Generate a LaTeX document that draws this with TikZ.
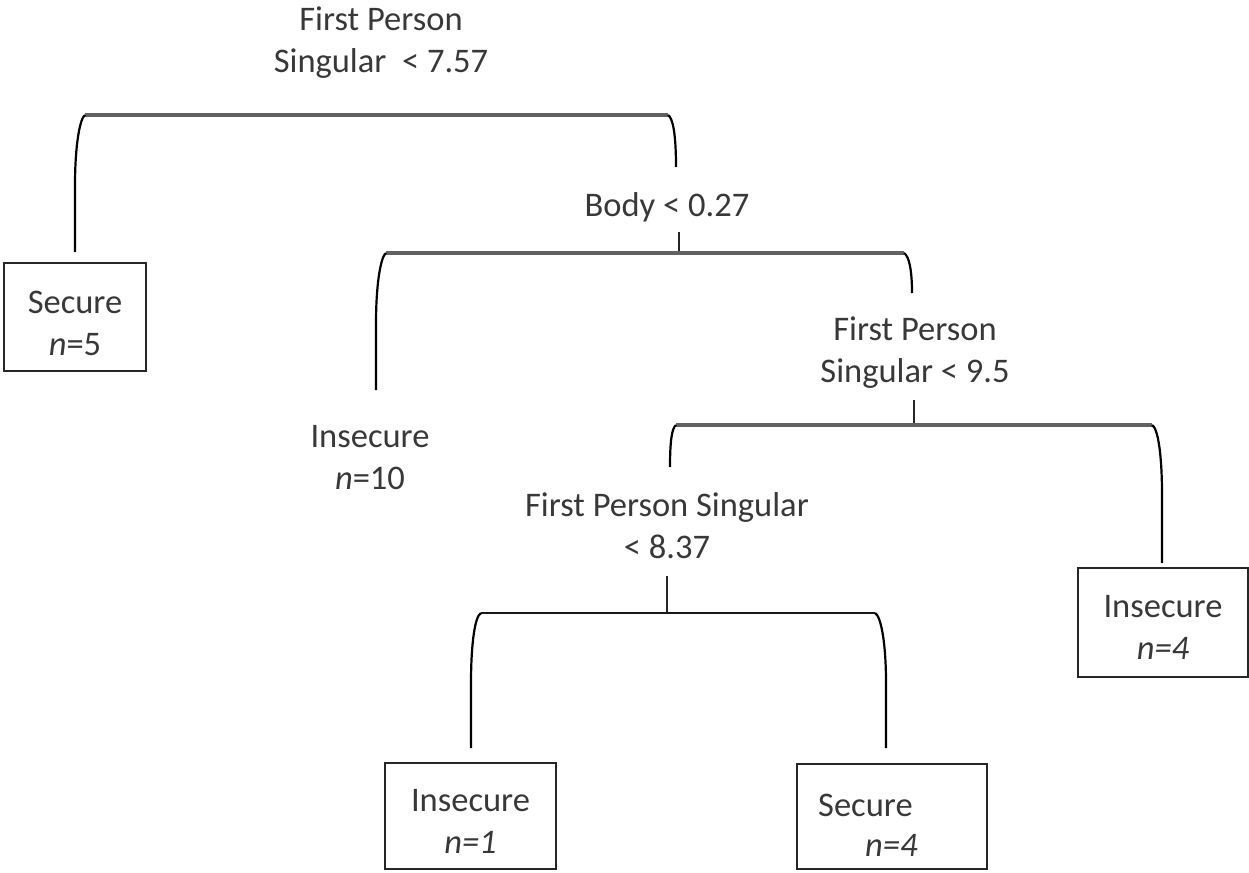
\documentclass[tikz,border=0pt]{standalone}
\usepackage{fontspec}
\setmainfont{Carlito}
\begin{document}
\begin{tikzpicture}[x=1pt,y=-1pt,
  txt/.style={text=black!78,align=center,inner sep=0pt,
    font=\fontsize{34.5}{42}\selectfont},
  leafbox/.style={draw=black!85,line width=2.6pt,inner sep=0pt},
  leg/.style={draw=black,line width=2.2pt},
  bar/.style={draw=black!62,line width=3.6pt},
  thinbar/.style={draw=black!90,line width=2.4pt},
  tick/.style={draw=black!85,line width=2.2pt}]
\useasboundingbox (0,0) rectangle (1249,872);

% split labels
\node[txt] (root) at (381,43) {First Person\\Singular\ \ {<} 7.57};
\node[txt] (body) at (667,207) {Body {<} 0.27};
\node[txt] (fps95) at (915,353) {First Person\\Singular {<} 9.5};
\node[txt] (fps837) at (667,526) {First Person Singular\\{<} 8.37};

% leaves
\node[leafbox,minimum width=142pt,minimum height=108pt] (sec5) at (75,317) {};
\node[txt] (sec5t) at (75,323) {Secure\\\textit{n}=5};
\node[txt] (ins10) at (370,458) {Insecure\\\textit{n}=10};
\node[leafbox,minimum width=170pt,minimum height=109pt] (ins4) at (1163,622.5) {};
\node[txt] (ins4t) at (1163,627) {Insecure\\\textit{n=4}};
\node[leafbox,minimum width=171pt,minimum height=106pt] (ins1) at (470.5,816) {};
\node[txt] (ins1t) at (470.5,821) {Insecure\\\textit{n=1}};
\node[leafbox,minimum width=190pt,minimum height=105pt] (sec4) at (892,816.5) {};
\node[txt,anchor=west] (sec4a) at (818,805) {Secure};
\node[txt,anchor=west] (sec4b) at (865,845) {\textit{n=4}};

% bracket ends
\coordinate (b1l) at (85,115);   \coordinate (b1r) at (668,115);
\coordinate (b1lb) at (75,252);  \coordinate (b1rb) at (676,167);
\coordinate (t2a) at (679,232);  \coordinate (t2b) at (679,253);
\coordinate (b2l) at (386,253);  \coordinate (b2r) at (904,253);
\coordinate (b2lb) at (376,390); \coordinate (b2rb) at (912,293);
\coordinate (t3a) at (914,400);  \coordinate (t3b) at (914,425);
\coordinate (b3l) at (676,425);  \coordinate (b3r) at (1152,425);
\coordinate (b3lb) at (670,467); \coordinate (b3rb) at (1162,563);
\coordinate (t4a) at (667,576);  \coordinate (t4b) at (667,613);
\coordinate (b4l) at (481,613);  \coordinate (b4r) at (875,613);
\coordinate (b4lb) at (471,748); \coordinate (b4rb) at (886,748);

% root split
\draw[bar] (b1l) -- (b1r);
\draw[leg] (b1l) .. controls (80,118) and (75,145) .. (75,185) -- (b1lb);
\draw[leg] (b1r) .. controls (673,118) and (676,135) .. (b1rb);

% body split
\draw[tick] (t2a) -- (t2b);
\draw[bar] (b2l) -- (b2r);
\draw[leg] (b2l) .. controls (381,256) and (376,283) .. (376,323) -- (b2lb);
\draw[leg] (b2r) .. controls (909,256) and (912,270) .. (b2rb);

% first person singular < 9.5
\draw[tick] (t3a) -- (t3b);
\draw[bar] (b3l) -- (b3r);
\draw[leg] (b3l) .. controls (672,428) and (670,440) .. (b3lb);
\draw[leg] (b3r) .. controls (1158,428) and (1162,455) .. (1162,495) -- (b3rb);

% first person singular < 8.37
\draw[tick] (t4a) -- (t4b);
\draw[thinbar] (b4l) -- (b4r);
\draw[leg] (b4l) .. controls (475,616) and (471,643) .. (471,683) -- (b4lb);
\draw[leg] (b4r) .. controls (881,616) and (886,643) .. (886,683) -- (b4rb);
\end{tikzpicture}
\end{document}
